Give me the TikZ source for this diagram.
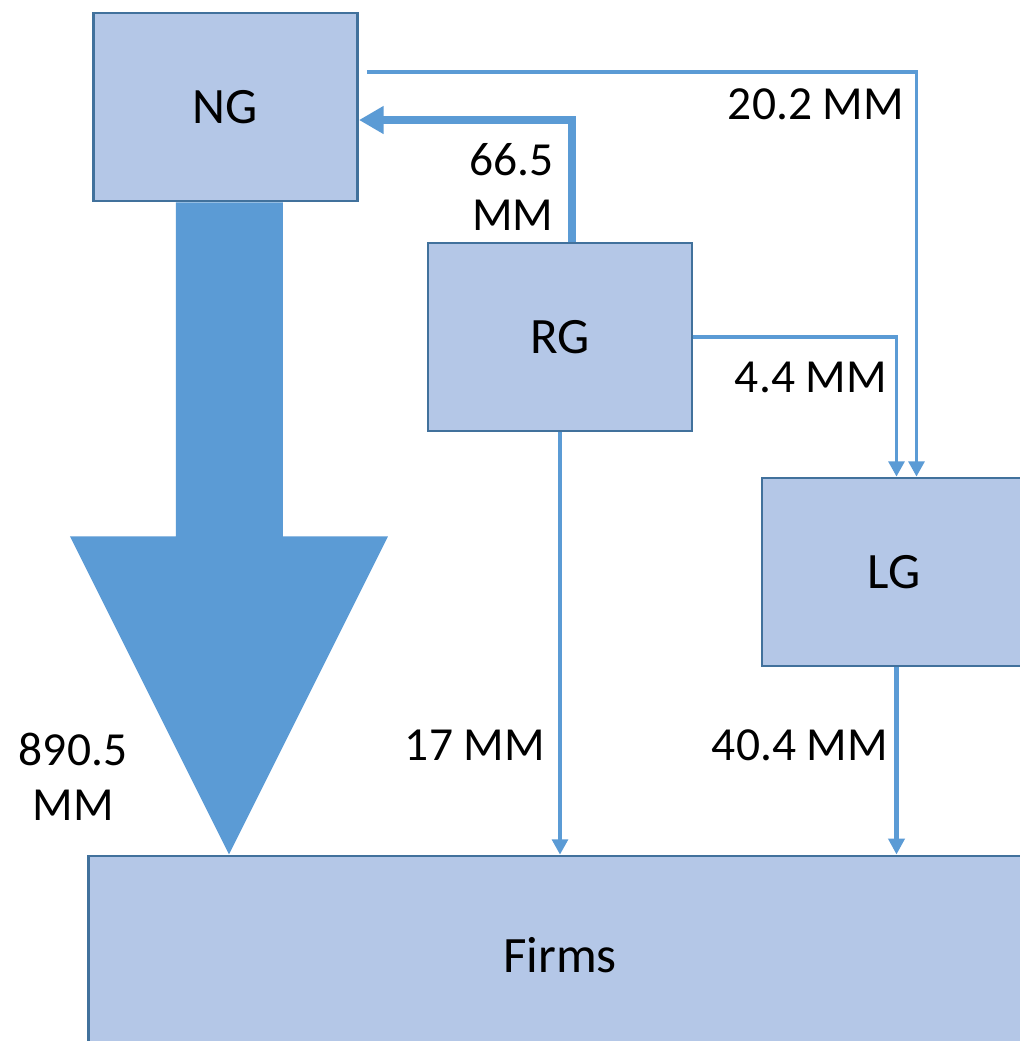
\documentclass[tikz,border=0pt]{standalone}
\usepackage{fontspec}
\setmainfont{Carlito}
\usepackage{tikz}
\usetikzlibrary{arrows.meta, positioning, calc}
\definecolor{boxfill}{RGB}{180, 199, 231}
\definecolor{boxline}{RGB}{65, 113, 156}
\definecolor{flowblue}{RGB}{91, 155, 213}

\begin{document}
\begin{tikzpicture}[x=0.01cm, y=-0.01cm,
  every node/.style={font=\fontsize{13.5}{15.6}\selectfont},
  govbox/.style={draw=boxline, fill=boxfill, line width=0.8pt, inner sep=0pt, minimum width=2.64cm, minimum height=1.88cm, font=\fontsize{14.5}{17}\selectfont},
  flow/.style={draw=flowblue, line width=0.9pt, -{Triangle[length=4.3pt, width=4.5pt]}},
  flowmid/.style={draw=flowblue, line width=1.5pt, -{Triangle[length=4.5pt, width=4.5pt]}},
  flowthick/.style={draw=flowblue, line width=2pt, -{Triangle[length=7pt, width=7.5pt]}},
  lbl/.style={inner sep=0pt}]
\useasboundingbox (0,0) rectangle (1020,1041);
\fill[white] (0,0) rectangle (1020,1041);
\clip (0,0) rectangle (1020,1041);
\node[govbox] (NG) at (225.5,107) {NG};
\node[govbox] (RG) at (560,337) {RG};
\node[govbox] (LG) at (894,572) {LG};
\node[govbox, minimum width=9.42cm, minimum height=1.98cm] (Firms) at (560,955) {Firms};
\coordinate (lgin) at ($(LG.north west)+(136,0)$);
\coordinate (ngin) at ($(LG.north west)+(156,0)$);
\fill[flowblue] ($(NG.south)+(-49.5,0)$) -- ($(NG.south)+(57.5,0)$) -- ($(NG.south)+(57.5,334)$) -- ($(NG.south)+(162.5,334)$)
  -- ($(NG.south)+(3.5,652)$) -- ($(NG.south)+(-155.5,334)$) -- ($(NG.south)+(-49.5,334)$) -- cycle;
\draw[flowthick] ($(RG.north)+(12,0)$) |- ($(NG.east)+(0,13)$);
\draw[flow] ($(NG.east)+(8,-35)$) -| (ngin);
\draw[flow] (RG.east) -| (lgin);
\draw[flow] (RG.south) -- (RG.south |- Firms.north);
\draw[flowmid] (lgin |- LG.south) -- (lgin |- Firms.north);
\node[lbl] (l202) at (816,104) {20.2 MM};
\node[lbl, align=right, anchor=east] (l665) at (554,187) {66.5\\MM};
\node[lbl] (l44) at (811,377) {4.4 MM};
\node[lbl] (l17) at (475,745) {17 MM};
\node[lbl] (l404) at (800,745) {40.4 MM};
\node[lbl, align=center] (l8905) at (73,777) {890.5\\MM};
\end{tikzpicture}
\end{document}
